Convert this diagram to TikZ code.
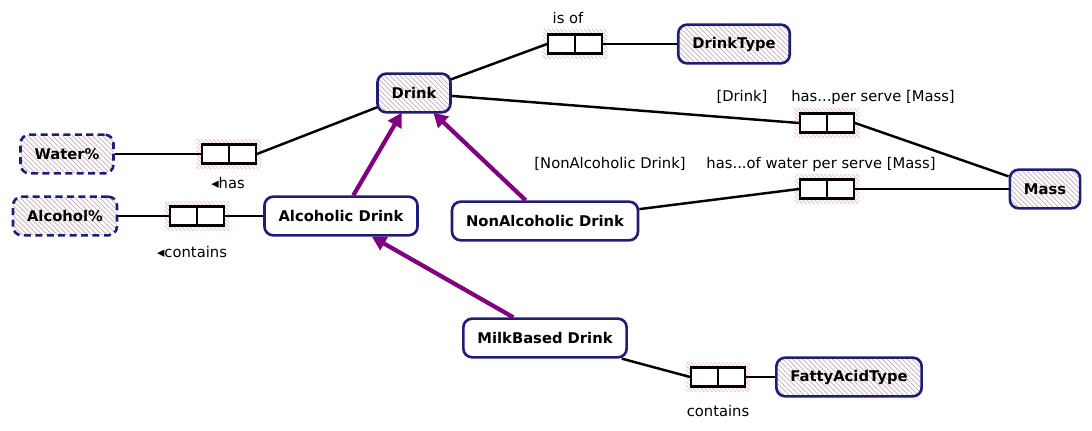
\documentclass[tikz,border=0pt]{standalone}
\usepackage{fontspec}
\setmainfont{DejaVu Sans}
\usepackage{xcolor}
\usepackage{tikz}
\usetikzlibrary{
  arrows.meta,
  patterns.meta,
  backgrounds,
}
\definecolor{navy}{HTML}{1E1E78}
\definecolor{subtype}{HTML}{800080}
\definecolor{hatch}{HTML}{C8A8B4}
\definecolor{halo}{HTML}{E3B4C0}
\tikzset{
  font=\fontsize{8.4}{10}\selectfont,
  typebox/.style={
    draw=navy,
    line width=1.5pt,
    rounded corners=5pt,
    minimum height=22pt,
    inner xsep=8pt,
    font=\fontsize{8.4}{10}\selectfont\bfseries,
  },
  entitybox/.style={typebox, fill=white},
  valuebox/.style={
    typebox,
    pattern={Lines[angle=-45,distance=2pt,line width=0.4pt]},
    pattern color=hatch,
  },
  valuedashed/.style={valuebox, dash pattern=on 4pt off 2.5pt},
  rolebox/.style={
    draw=black,
    fill=white,
    line width=1.2pt,
    minimum width=30.6pt,
    minimum height=10.8pt,
    inner sep=0pt,
    path picture={
      \draw[line width=1.2pt] (path picture bounding box.north) -- (path picture bounding box.south);
    },
  },
  link/.style={draw=black, line width=1.4pt},
  isa/.style={draw=subtype, line width=2.4pt, -{Triangle[length=8pt,width=8.5pt]}},
  rolelabel/.style={inner sep=1pt},
}

\begin{document}
\begin{tikzpicture}[x=0.02cm,y=-0.02cm]
  \useasboundingbox (0,0) rectangle (1092,431);

  % object types
  \node[valuebox] (drink) at (414,93) {Drink};
  \node[valuebox] (drinktype) at (734,44) {DrinkType};
  \node[valuedashed] (water) at (67,154) {Water\%};
  \node[valuedashed] (alcohol) at (65,216) {Alcohol\%};
  \node[entitybox] (alcoholic) at (341,216) {Alcoholic Drink};
  \node[entitybox] (nonalc) at (545,221) {NonAlcoholic Drink};
  \node[valuebox] (mass) at (1045,189) {Mass};
  \node[entitybox] (milk) at (545,338) {MilkBased Drink};
  \node[valuebox] (fatty) at (849,377) {FattyAcidType};

  % fact type roles
  \node[rolebox] (risof) at (575,44) {};
  \node[rolebox] (rhas) at (229,154) {};
  \node[rolebox] (rcont) at (197,216) {};
  \node[rolebox] (rserve) at (827,123) {};
  \node[rolebox] (rwater) at (827,189) {};
  \node[rolebox] (rfat) at (718,377) {};

  \begin{scope}[on background layer]
    \foreach \r in {risof,rhas,rcont,rserve,rwater,rfat} {
      \fill[pattern={Lines[angle=-45,distance=1.6pt,line width=0.35pt]}, pattern color=halo]
        ([xshift=-2.5pt,yshift=-2.5pt]\r.south west) rectangle ([xshift=2.5pt,yshift=2.5pt]\r.north east);
    }
  \end{scope}

  % role labels
  \node[rolelabel] (lisof) at (568,18) {is of};
  \node[rolelabel] (lhas) at (228,183) {◂has};
  \node[rolelabel] (lcont) at (192,252) {◂contains};
  \node[rolelabel] (ldrink) at (742,97) {[Drink]};
  \node[rolelabel] (lserve) at (873,97) {has...per serve [Mass]};
  \node[rolelabel] (lnonalc) at (610,164) {[NonAlcoholic Drink]};
  \node[rolelabel] (lwater) at (821,164) {has...of water per serve [Mass]};
  \node[rolelabel] (lfat) at (718,411) {contains};

  % connectors
  \draw[link] (drink) -- (risof.west);
  \draw[link] (risof.east) -- (drinktype);
  \draw[link] (drink) -- (rserve.west);
  \draw[link] (rserve.east) -- (mass);
  \draw[link] (water) -- (rhas.west);
  \draw[link] (rhas.east) -- (drink);
  \draw[link] (alcohol) -- (rcont.west);
  \draw[link] (rcont.east) -- (alcoholic);
  \draw[link] (nonalc) -- (rwater.west);
  \draw[link] (rwater.east) -- (mass);
  \draw[link] (milk) -- (rfat.west);
  \draw[link] (rfat.east) -- (fatty);

  % subtypes
  \draw[isa] ([xshift=7pt]alcoholic.north) -- ([xshift=-7pt]drink.south);
  \draw[isa] ([xshift=-11pt]nonalc.north) -- ([xshift=11pt]drink.south);
  \draw[isa] ([xshift=-18pt]milk.north) -- ([xshift=17.6pt]alcoholic.south);
\end{tikzpicture}
\end{document}
